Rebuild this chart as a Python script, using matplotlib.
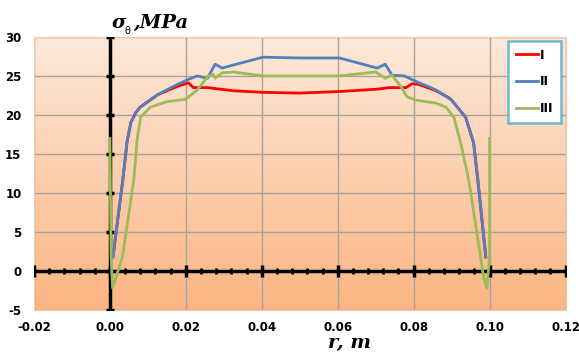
import numpy as np
import matplotlib.pyplot as plt
from matplotlib.colors import LinearSegmentedColormap

plt.rcParams['axes.unicode_minus'] = False

# radius (m) and hoop stress (MPa)
r_I = [0.0008, 0.0034, 0.0045, 0.0055, 0.0068, 0.008, 0.0126, 0.0165, 0.0186, 0.0207,
       0.022, 0.0257, 0.0325, 0.040, 0.050, 0.0605, 0.0704, 0.0736, 0.078, 0.0796,
       0.0814, 0.0859, 0.0893, 0.090, 0.0937, 0.0958, 0.0969, 0.099]
s_I = [1.8, 11.7, 16.5, 19.0, 20.3, 21.0, 22.6, 23.4, 23.8, 24.1,
       23.5, 23.5, 23.1, 22.9, 22.8, 23.0, 23.3, 23.5, 23.5, 24.0,
       23.9, 23.1, 22.2, 21.9, 19.7, 16.4, 11.7, 1.8]

r_II = [0.0008, 0.0034, 0.0045, 0.0055, 0.0068, 0.008, 0.0126, 0.0165, 0.0204, 0.023,
        0.0257, 0.0277, 0.0296, 0.0325, 0.0403, 0.050, 0.0605, 0.0704, 0.0725, 0.0743,
        0.0775, 0.0806, 0.0859, 0.090, 0.0937, 0.0958, 0.0969, 0.099]
s_II = [1.8, 11.7, 16.5, 19.0, 20.3, 21.0, 22.6, 23.6, 24.5, 25.0,
        24.7, 26.5, 26.0, 26.4, 27.4, 27.3, 27.3, 26.0, 26.5, 25.1,
        25.0, 24.3, 23.2, 21.9, 19.7, 16.4, 11.7, 1.8]

r_III = [0.0, 0.0003, 0.0007, 0.0015, 0.0033, 0.0063, 0.0072, 0.0081, 0.0107, 0.015,
         0.0199, 0.023, 0.0257, 0.0272, 0.0277, 0.0296, 0.0325, 0.0403, 0.050, 0.0605,
         0.070, 0.0725, 0.0743, 0.0767, 0.0783, 0.0806, 0.0859, 0.0885, 0.0906, 0.0924,
         0.0945, 0.0985, 0.0993, 0.100, 0.100]
s_III = [17.0, 2.0, -2.2, -1.0, 1.8, 11.7, 17.0, 19.7, 21.0, 21.7,
         22.0, 23.2, 24.9, 25.2, 24.7, 25.4, 25.5, 25.0, 25.0, 25.0,
         25.5, 24.7, 25.1, 23.6, 22.3, 21.9, 21.5, 21.0, 19.7, 16.4,
         11.7, -1.0, -2.2, 1.8, 17.0]

labels = ['I', 'II', 'III']
colors = ['#ff0000', '#4f81bd', '#9bbb59']

fig = plt.figure(figsize=(5.79, 3.55), dpi=100)
ax = fig.add_axes([0.0587, 0.127, 0.918, 0.769])
ax.set_xlim(-0.02, 0.12)
ax.set_ylim(-5, 30)

# gradient fill of the plot area
cmap = LinearSegmentedColormap.from_list('peach', ['#fcb583', '#fde9da'])
grad = np.linspace(0, 1, 256).reshape(-1, 1)
ax.imshow(grad, cmap=cmap, origin='lower', extent=[0, 1, 0, 1],
          transform=ax.transAxes, aspect='auto', zorder=0)

ax.set_xticks(np.arange(-0.02, 0.121, 0.02))
ax.set_yticks(np.arange(-5, 31, 5))
ax.xaxis.set_major_formatter(plt.FormatStrFormatter('%.2f'))
ax.grid(True, color='#aaa29a', lw=1, zorder=1)
ax.tick_params(length=0, labelsize=8.5)
ax.tick_params(axis='x', pad=8)
ax.tick_params(axis='y', pad=9)
for lab in ax.get_xticklabels() + ax.get_yticklabels():
    lab.set_fontweight('bold')
for sp in ax.spines.values():
    sp.set_color('#f5c9a5')

# black coordinate axes through the origin
ax.plot([0, 0], [-5, 30], color='black', lw=2.5, zorder=3)
ax.plot([-0.02, 0.12], [0, 0], color='black', lw=2.5, zorder=3)
ax.plot(np.zeros(8), np.arange(-5, 31, 5), ls='none', marker='_', ms=5.5, mew=2.5,
        color='black', zorder=3)
ax.plot(np.arange(-0.02, 0.1201, 0.004), np.zeros(36), ls='none', marker='|', ms=5,
        mew=2, color='black', zorder=3)
ax.plot(np.arange(-0.02, 0.1201, 0.02), np.zeros(8), ls='none', marker='|', ms=8,
        mew=2.5, color='black', zorder=3)

for r, s, lab, c in zip([r_I, r_II, r_III], [s_I, s_II, s_III], labels, colors):
    ax.plot(r, s, color=c, lw=2, label=lab, zorder=4, solid_joinstyle='round')

leg = ax.legend(loc='upper right', bbox_to_anchor=(0.992, 0.985), fancybox=False,
                framealpha=1, edgecolor='#6fb8d0', handlelength=1.8,
                labelspacing=1.1, borderpad=0.6, handletextpad=0.15,
                borderaxespad=0, prop={'weight': 'bold', 'size': 9})
leg.get_frame().set_linewidth(1.8)
leg.set_zorder(5)

fig.text(0.192, 0.935, 'σ', fontsize=14, fontweight='bold', fontstyle='italic',
         family='DejaVu Serif', ha='left', va='center')
fig.text(0.215, 0.912, 'θ', fontsize=7, ha='left', va='center')
fig.text(0.230, 0.935, ',MPa', fontsize=14, fontweight='bold', fontstyle='italic',
         family='DejaVu Serif', ha='left', va='center')
fig.text(0.604, 0.035, 'r, m', fontsize=14, fontweight='bold', fontstyle='italic',
         family='DejaVu Serif', ha='center', va='center')

fig.savefig('out.png', dpi=100)
